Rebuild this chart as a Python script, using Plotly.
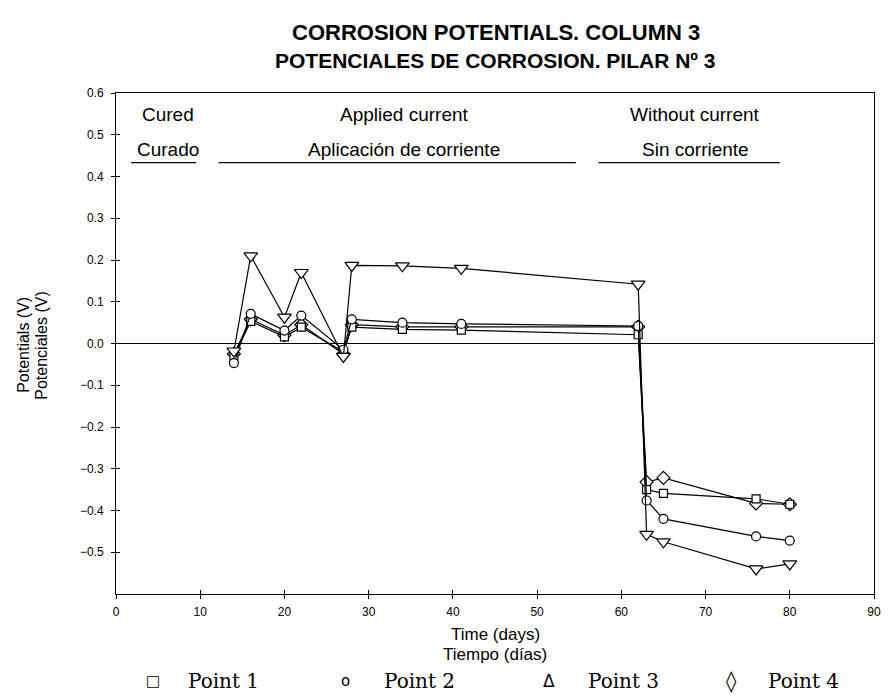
import plotly.graph_objects as go

# ---- data ----
days = [14, 16, 20, 22, 27, 28, 34, 41, 62, 63, 65, 76, 80]
point1 = [-0.030, 0.053, 0.016, 0.039, -0.020, 0.039, 0.034, 0.032, 0.021, -0.350, -0.359, -0.372, -0.385]
point2 = [-0.047, 0.071, 0.031, 0.067, -0.015, 0.058, 0.050, 0.047, 0.042, -0.376, -0.420, -0.462, -0.472]
point3 = [-0.018, 0.210, 0.063, 0.170, -0.031, 0.187, 0.186, 0.180, 0.142, -0.457, -0.475, -0.540, -0.528]
point4 = [-0.025, 0.058, 0.020, 0.045, -0.025, 0.045, 0.040, 0.040, 0.040, -0.332, -0.322, -0.383, -0.385]

x_ticks = [0, 10, 20, 30, 40, 50, 60, 70, 80, 90]
y_ticks = [-0.5, -0.4, -0.3, -0.2, -0.1, 0.0, 0.1, 0.2, 0.3, 0.4, 0.5, 0.6]

phase_top = ["Cured", "Applied current", "Without current"]
phase_bottom = ["Curado", "Aplicación de corriente", "Sin corriente"]
phase_center = [6.2, 34.2, 68.8]
phase_line_start = [1.8, 12.2, 57.3]
phase_line_end = [9.5, 54.6, 78.8]
phase_top_y = 0.548
phase_bottom_y = 0.465
phase_line_y = 0.433

legend_symbols = ["□", "o", "Δ", "◊"]
legend_labels = ["Point 1", "Point 2", "Point 3", "Point 4"]

title_lines = ["CORROSION POTENTIALS. COLUMN 3", "POTENCIALES DE CORROSION. PILAR Nº 3"]

# ---- figure ----
fig = go.Figure()

series = [
    (point4, "diamond", 10),
    (point1, "square", 8),
    (point2, "circle", 9),
    (point3, "triangle-down", 12),
]
for vals, sym, sz in series:
    fig.add_trace(go.Scatter(
        x=days, y=vals, mode="lines+markers",
        line=dict(color="black", width=1.2),
        marker=dict(symbol=sym, size=sz, color="white",
                    line=dict(color="black", width=1.2)),
        showlegend=False, cliponaxis=False,
    ))

# phase underlines
for s, e in zip(phase_line_start, phase_line_end):
    fig.add_trace(go.Scatter(
        x=[s, e], y=[phase_line_y, phase_line_y], mode="lines",
        line=dict(color="black", width=1.3), showlegend=False, hoverinfo="skip",
    ))

annotations = []
txt_font = dict(family="Liberation Sans, Arial", size=19, color="black")
for c, t1, t2 in zip(phase_center, phase_top, phase_bottom):
    annotations.append(dict(x=c, y=phase_top_y, xref="x", yref="y", text=t1,
                            showarrow=False, yanchor="middle", font=txt_font))
    annotations.append(dict(x=c, y=phase_bottom_y, xref="x", yref="y", text=t2,
                            showarrow=False, yanchor="middle", font=txt_font))

# titles
title_font = dict(family="Liberation Sans, Arial", size=21, color="black")
annotations.append(dict(x=0.501, y=(594 - 33) / 501, xref="paper", yref="paper",
                        text="<b>%s</b>" % title_lines[0], showarrow=False,
                        xanchor="center", yanchor="middle", font=dict(title_font, size=22)))
annotations.append(dict(x=0.501, y=(594 - 60) / 501, xref="paper", yref="paper",
                        text="<b>%s</b>" % title_lines[1], showarrow=False,
                        xanchor="center", yanchor="middle", font=title_font))

# axis titles
ax_font = dict(family="Liberation Sans, Arial", size=17, color="black")
annotations.append(dict(x=0.5, y=(594 - 634) / 501, xref="paper", yref="paper", text="Time (days)",
                        showarrow=False, xanchor="center", yanchor="middle", font=ax_font))
annotations.append(dict(x=0.5, y=(594 - 654) / 501, xref="paper", yref="paper", text="Tiempo (días)",
                        showarrow=False, xanchor="center", yanchor="middle", font=ax_font))
yt_font = dict(family="Liberation Sans, Arial", size=16, color="black")
annotations.append(dict(x=(22 - 116) / 765, y=0.497, xref="paper", yref="paper", text="Potentials (V)",
                        showarrow=False, textangle=-90, xanchor="center", yanchor="middle", font=yt_font))
annotations.append(dict(x=(40 - 116) / 765, y=0.497, xref="paper", yref="paper", text="Potenciales (V)",
                        showarrow=False, textangle=-90, xanchor="center", yanchor="middle", font=yt_font))

# legend (as text row)
sym_x = [153, 348, 553, 737]
sym_size = [15, 15, 17, 21]
lab_x = [187, 384, 590, 772]
leg_y = (594 - 681) / 501
for sx, ss, lx, s, l in zip(sym_x, sym_size, lab_x, legend_symbols, legend_labels):
    annotations.append(dict(x=(sx - 116) / 765, y=leg_y, xref="paper", yref="paper", text=s,
                            showarrow=False, xanchor="center", yanchor="middle",
                            font=dict(family="DejaVu Sans", size=ss, color="black")))
    annotations.append(dict(x=(lx - 116) / 765, y=leg_y, xref="paper", yref="paper", text=l,
                            showarrow=False, xanchor="left", yanchor="middle",
                            font=dict(family="DejaVu Serif", size=20, color="black")))

tick_font = dict(family="Liberation Sans, Arial", size=12, color="black")
fig.update_layout(
    width=890, height=697,
    margin=dict(l=116, r=9, t=93, b=103),
    paper_bgcolor="white", plot_bgcolor="white",
    annotations=annotations,
    xaxis=dict(range=[0, 90], tickvals=x_ticks, ticks="outside", ticklen=4, tickwidth=1,
               tickcolor="black", showline=True, linecolor="black", linewidth=1, mirror=True,
               showgrid=False, zeroline=False, tickfont=tick_font, ticklabelstandoff=3),
    yaxis=dict(range=[-0.6, 0.6], tickvals=y_ticks, tickformat=".1f", ticks="outside", ticklen=4,
               tickwidth=1, tickcolor="black", showline=True, linecolor="black", linewidth=1,
               mirror=True, showgrid=False, zeroline=True, zerolinecolor="black",
               zerolinewidth=1, tickfont=tick_font, ticklabelstandoff=5),
    xaxis2=dict(range=[0, 90], tickvals=x_ticks, ticks="inside", ticklen=4, tickwidth=1,
                tickcolor="black", showticklabels=False, overlaying="x", side="bottom",
                showgrid=False, zeroline=False, showline=False),
    yaxis2=dict(range=[-0.6, 0.6], tickvals=y_ticks, ticks="inside", ticklen=4, tickwidth=1,
                tickcolor="black", showticklabels=False, overlaying="y", side="left",
                showgrid=False, zeroline=False, showline=False),
)
fig.add_trace(go.Scatter(x=[None], y=[None], xaxis="x2", yaxis="y2", showlegend=False))

fig.write_html("out.html")
